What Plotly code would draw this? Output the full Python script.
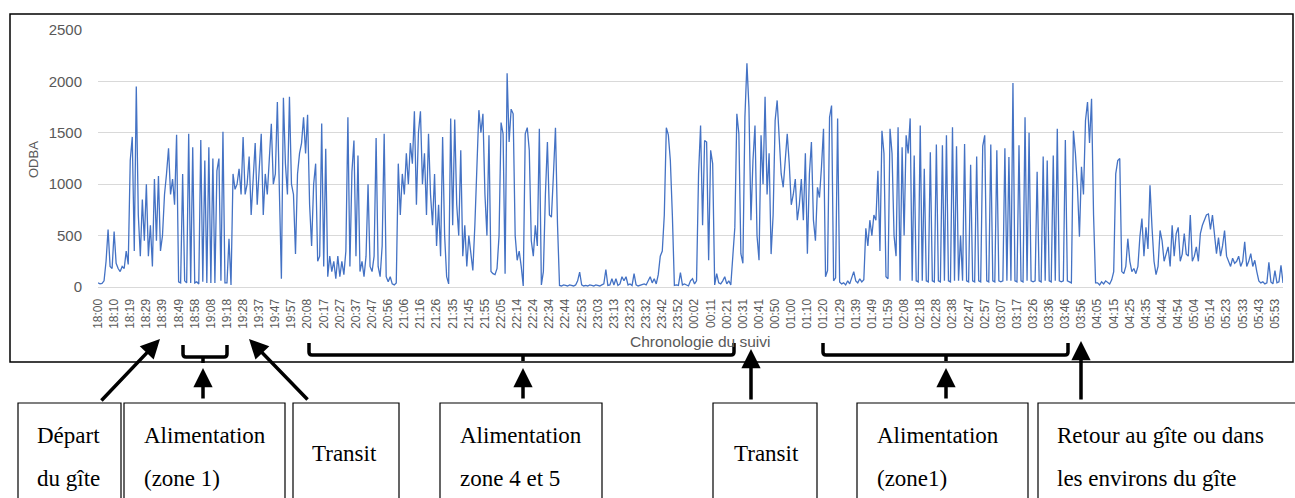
import plotly.graph_objects as go

tick_labels = [
    "18:00", "18:10", "18:19", "18:29", "18:39", "18:49", "18:58", "19:08", "19:18", "19:28",
    "19:37", "19:47", "19:57", "20:08", "20:17", "20:27", "20:37", "20:47", "20:56", "21:06",
    "21:16", "21:26", "21:35", "21:45", "21:55", "22:05", "22:14", "22:24", "22:34", "22:44",
    "22:53", "23:03", "23:13", "23:23", "23:32", "23:42", "23:52", "00:02", "00:11", "00:21",
    "00:31", "00:41", "00:50", "01:00", "01:10", "01:20", "01:29", "01:39", "01:49", "01:59",
    "02:08", "02:18", "02:28", "02:38", "02:47", "02:57", "03:07", "03:17", "03:26", "03:36",
    "03:46", "03:56", "04:05", "04:15", "04:25", "04:35", "04:44", "04:54", "05:04", "05:14",
    "05:23", "05:33", "05:43", "05:53",
]
SAMPLES_PER_TICK = 8

# ODBA values, 8 samples per labelled interval
odba_depart = [
    40, 30, 35, 60, 250, 560, 200, 180,
    540, 230, 180, 150, 200, 180, 350, 220,
    1230, 1460, 350, 1950, 700, 300, 850, 450,
    1000, 300, 600, 200, 1050, 450, 1080, 350,
    500, 900, 1100, 1350, 900, 1050, 800, 1480,
]
odba_zone1 = [
    50, 40, 1100, 60, 40, 1490, 40, 1360,
    40, 50, 30, 1430, 50, 1230, 40, 1360,
    40, 1250, 40, 1130, 1250, 60, 1510, 40,
    40, 470, 20, 1100, 950, 1000, 1150, 900,
]
odba_transit1 = [
    1460, 900, 1000, 1270, 700, 1100, 1400, 800,
    1200, 1490, 700, 1100, 900, 1300, 1588, 1000,
    1100, 1800, 1000, 80, 1840, 1200, 900, 1850,
    1000, 900, 320, 1100, 1300, 1400, 1650, 1300,
]
odba_zone45 = [
    1675, 800, 400, 1000, 1200, 250, 300, 1590,
    200, 1345, 100, 300, 150, 250, 80, 300,
    100, 250, 120, 350, 1650, 200, 1120, 1425,
    300, 1280, 150, 250, 100, 300, 1000, 200,
    150, 300, 1450, 200, 100, 400, 1490, 100,
    50, 100, 30, 20, 40, 1200, 700, 1100,
    900, 1300, 1000, 1400, 1200, 1710, 800, 1500,
    1710, 1000, 1300, 700, 1490, 900, 600, 1100,
    400, 800, 300, 1460, 500, 100, 30, 1640,
    600, 1630, 800, 500, 1330, 300, 600, 200,
    500, 324, 160, 600, 1100, 1720, 1500, 1685,
    900, 500, 1475, 150, 130, 120, 180, 500,
    1600, 1490, 130, 2080, 1410, 1730, 1685, 500,
    260, 350, 200, 10, 1490, 1550, 1330, 450,
    300, 600, 400, 1540, 20, 150, 900, 1410,
    700, 680, 1100, 1550, 615, 15, 10, 20,
]
odba_repos = [
    15, 10, 20, 15, 10, 20, 60, 145,
    20, 10, 15, 10, 20, 15, 10, 20,
    15, 10, 20, 30, 170, 15, 20, 80,
    20, 80, 15, 30, 100, 60, 100, 20,
    30, 15, 130, 20, 10, 15, 25, 30,
    20, 60, 100, 40, 80, 30, 120, 300,
    350, 700, 1550, 1480, 1230, 700, 15, 20,
    15, 140, 20, 30, 20, 10, 60, 80,
]
odba_transit2 = [
    30, 60, 1100, 1570, 600, 1425, 1410, 260,
    1330, 1200, 20, 130, 40, 30, 60, 100,
    30, 60, 20, 320, 580, 1685, 1490, 324,
    230, 1650, 2177, 1750, 650, 1230, 1570, 500,
    260, 1475, 1000, 1850, 900, 1300, 320, 700,
    1620, 1815, 1460, 1100, 970, 1230, 1490, 1200,
    800, 900, 1050, 650, 800, 1050, 650, 1300,
    324, 1100, 1410, 650, 450, 970, 870, 1170,
    1540, 100, 160, 1650, 1765, 60, 90, 1640,
]
odba_pause = [
    50, 30, 40, 20, 60, 30, 100, 150,
    60, 40, 80, 50, 70, 570, 400, 650,
    500, 700, 650, 1130, 350, 1520, 1300, 100,
]
odba_zone1b = [
    80, 1540, 1300, 500, 300, 1555, 60, 1360,
    500, 1475, 1300, 1640, 60, 1280, 60, 50,
    1570, 60, 1150, 60, 50, 1310, 60, 50,
    1385, 60, 50, 1380, 60, 1475, 60, 50,
    1555, 60, 1370, 60, 500, 60, 1390, 60,
    50, 1190, 60, 50, 1270, 60, 50, 1370,
    1475, 60, 50, 1385, 60, 50, 1330, 60,
    50, 60, 1350, 60, 1265, 60, 1985, 60,
    50, 1380, 60, 50, 1650, 60, 1500, 60,
    50, 60, 1120, 60, 50, 1270, 60, 1230,
    60, 50, 1280, 60, 1540, 60, 50, 60,
    1430, 60, 50, 40, 1520, 1300, 970, 490,
]
odba_retour = [
    1170, 900, 1620, 1800, 1400, 1830, 700, 40,
    40, 20, 50, 30, 60, 40, 30, 70,
    150, 1100, 1230, 1250, 150, 130, 200, 470,
    250, 150, 180, 130, 200, 490, 665, 300,
    580, 370, 990, 580, 250, 120, 200, 550,
    450, 250, 320, 390, 200, 600, 300, 520,
    580, 250, 320, 520, 320, 300, 700, 250,
    300, 390, 250, 520, 600, 650, 700, 710,
    560, 700, 480, 324, 480, 300, 400, 550,
    300, 250, 200, 280, 230, 250, 300, 200,
    250, 440, 200, 250, 324, 200, 260, 150,
    60, 40, 50, 30, 40, 240, 50, 30,
    160, 40, 50, 210, 40,
]

values = (odba_depart + odba_zone1 + odba_transit1 + odba_zone45 + odba_repos
          + odba_transit2 + odba_pause + odba_zone1b + odba_retour)
xs = list(range(len(values)))
tickvals = [i * SAMPLES_PER_TICK for i in range(len(tick_labels))]

W, H = 1295, 498
L, R, T, B = 98, 1283, 30, 287
GRAY = "#595959"


def px(x):
    return (x - L) / (R - L)


def py(y):
    return (B - y) / (B - T)


fig = go.Figure()
fig.add_trace(go.Scatter(x=xs, y=values, mode="lines",
                         line=dict(color="#4472C4", width=1.3), hoverinfo="skip"))

fig.update_layout(
    width=W, height=H,
    margin=dict(l=L, r=W - R, t=T, b=H - B, pad=0),
    paper_bgcolor="white", plot_bgcolor="white",
    showlegend=False,
    font=dict(family="Liberation Sans, Arial, sans-serif", color=GRAY),
)
fig.update_xaxes(
    range=[0, len(values) - 1], tickmode="array", tickvals=tickvals, ticktext=tick_labels,
    tickangle=-90, tickfont=dict(size=12, color=GRAY), showgrid=False,
    showline=True, linecolor="#D9D9D9", linewidth=1, ticks="", ticklabelstandoff=6,
    zeroline=False,
)
fig.update_yaxes(
    range=[0, 2500], tickvals=[0, 500, 1000, 1500, 2000, 2500],
    tickfont=dict(size=15, color=GRAY), gridcolor="#D9D9D9", gridwidth=1,
    zeroline=False, showline=False, ticks="", ticklabelstandoff=15,
)

shapes = []
# outer chart border
shapes.append(dict(type="rect", xref="paper", yref="paper",
                   x0=px(10), x1=px(1293), y0=py(362), y1=py(14),
                   line=dict(color="black", width=1.5), layer="below"))


def bracket(x1, x2, top, bot, mid, nub):
    r = 3
    return (f"M {px(x1)},{py(top)} L {px(x1)},{py(bot - r)} "
            f"Q {px(x1)},{py(bot)} {px(x1 + r)},{py(bot)} "
            f"L {px(x2 - r)},{py(bot)} Q {px(x2)},{py(bot)} {px(x2)},{py(bot - r)} "
            f"L {px(x2)},{py(top)} M {px(mid)},{py(bot)} L {px(mid)},{py(nub)}")


for (x1, x2, top, bot, mid) in [(183, 227, 345, 357, 203), (309, 734, 343, 355, 523),
                                (823, 1068, 343, 355, 946)]:
    shapes.append(dict(type="path", xref="paper", yref="paper",
                       path=bracket(x1, x2, top, bot, mid, bot + 6),
                       line=dict(color="black", width=3.5)))

# label boxes
boxes = [(18, 121), (124, 285), (293, 399), (440, 602), (713, 817), (857, 1028), (1038, 1300)]
for (x0, x1) in boxes:
    shapes.append(dict(type="rect", xref="paper", yref="paper",
                       x0=px(x0), x1=px(x1), y0=py(520), y1=py(403),
                       line=dict(color="black", width=1.2)))
fig.update_layout(shapes=shapes)

ann = []
ann.append(dict(text="ODBA", xref="paper", yref="paper", x=px(33), y=py(160),
                showarrow=False, textangle=-90, font=dict(size=13, color=GRAY),
                xanchor="center", yanchor="middle"))
ann.append(dict(text="Chronologie du suivi", xref="paper", yref="paper", x=px(700), y=py(341),
                showarrow=False, font=dict(size=15.5, color=GRAY),
                xanchor="center", yanchor="middle"))

arrows = [((100, 402), (160, 339)), ((203, 400), (203, 368)), ((309, 401), (249, 339)),
          ((523, 400), (523, 368)), ((751, 401), (751, 349)), ((946, 400), (946, 368)),
          ((1081, 401), (1081, 341))]
for (tx, ty), (hx, hy) in arrows:
    ann.append(dict(text="", xref="paper", yref="paper", x=px(hx), y=py(hy),
                    ax=tx - hx, ay=ty - hy, axref="pixel", ayref="pixel",
                    showarrow=True, arrowhead=2, arrowsize=1.1, arrowwidth=3.5,
                    arrowcolor="black"))

serif = dict(family="Liberation Serif, Times New Roman, serif", size=23, color="black")
texts = [
    (35, 435, "Départ"), (35, 478, "du gîte"),
    (142, 435, "Alimentation"), (142, 478, "(zone 1)"),
    (310, 453, "Transit"),
    (458, 435, "Alimentation"), (458, 478, "zone 4 et 5"),
    (732, 453, "Transit"),
    (875, 435, "Alimentation"), (875, 478, "(zone1)"),
    (1055, 435, "Retour au gîte ou dans"), (1055, 478, "les environs du gîte"),
]
for (x, y, t) in texts:
    ann.append(dict(text=t, xref="paper", yref="paper", x=px(x), y=py(y),
                    showarrow=False, font=serif, xanchor="left", yanchor="middle"))
fig.update_layout(annotations=ann)

fig.write_html("out.html")
